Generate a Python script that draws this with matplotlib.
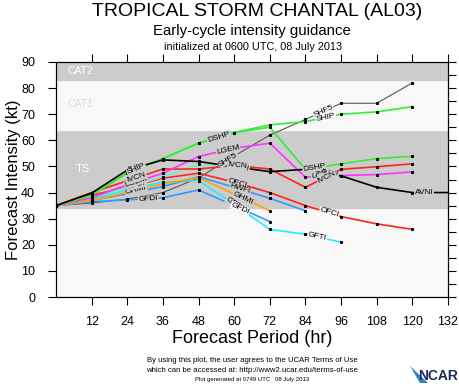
import math
import numpy as np
import matplotlib
matplotlib.use('Agg')
import matplotlib.pyplot as plt
from matplotlib.patches import Polygon

plt.rcParams['font.family'] = ['Liberation Sans', 'DejaVu Sans']

# forecast hours (AVNI runs one step longer, to the right edge)
hours = [0, 12, 24, 36, 48, 60, 72, 84, 96, 108, 120, 132]

# intensity guidance (kt)
shf5 = [35, 36, 37.5, 40, 45.6, 54, 62, 68, 74.2, 74.2, 82]
ship = [35, 39, 47.5, 53, 58.9, 63, 65.9, 67.2, 70, 70.9, 72.9]
dshp = [35, 39, 47.5, 53, 58.9, 63, 65, 48.9, 51, 53, 53.9]
lgem = [35, 38, 43, 47.4, 53.8, 57, 58.9, 45.9, 46.5, 46.9, 47.9]
avni = [35, 39.8, 48.6, 52.5, 51.9, 49.9, 48, 48.9, 46.4, 42, 40, 40]
icon = [35, 38, 42, 46, 50.8, 50]
ivcn = [35, 40, 44.5, 49, 49, 50.4, 49, 42, 48.9, 49.9, 51]
ofci = [35, 39, 42, 45.5, 47.4, 44, 40, 35, 30.8, 28, 25.9]
ghmi = [35, 37, 40, 43.3, 45.7, 39.5, 33]
hwfi = [35, 37, 39.5, 42.3, 46.1, 42, 37.8, 33]
gfti = [35, 37.5, 41, 44, 44.6, 35.5, 25.9, 24, 21]
gfdi = [35, 36.5, 37.2, 38, 41, 35, 28.9]

models = [
    ('SHF5', shf5, '#555555', 0.8),
    ('GFDI', gfdi, '#3399ff', 1.2),
    ('GFTI', gfti, '#22eeff', 1.2),
    ('HWFI', hwfi, '#3399ff', 1.2),
    ('GHMI', ghmi, '#ffa500', 1.2),
    ('OFCI', ofci, '#ff2222', 1.2),
    ('ICON', icon, '#77eebb', 1.2),
    ('IVCN', ivcn, '#ff2222', 1.2),
    ('LGEM', lgem, '#ff33ff', 1.2),
    ('DSHP', dshp, '#33ee33', 1.2),
    ('SHIP', ship, '#33ee33', 1.2),
    ('AVNI', avni, '#000000', 1.2),
]
series = {name: vals for name, vals, c, lw in models}

# where the line labels sit (model, hour)
label_spots = [
    ('GFDI', 31), ('GFTI', 27), ('HWFI', 27), ('GHMI', 27), ('OFCI', 27),
    ('LGEM', 27), ('IVCN', 27), ('AVNI', 27), ('SHIP', 27),
    ('SHIP', 54), ('DSHP', 55), ('SHF5', 58), ('LGEM', 58),
    ('AVNI', 62), ('IVCN', 61), ('OFCI', 61), ('HWFI', 62),
    ('GHMI', 63), ('GFTI', 60), ('GFDI', 62),
    ('SHF5', 90), ('SHIP', 91), ('DSHP', 87), ('LGEM', 90),
    ('AVNI', 92), ('IVCN', 91), ('OFCI', 92), ('GFTI', 88),
    ('AVNI', 124),
]

fig = plt.figure(figsize=(4.6, 3.84), dpi=100)
ax = fig.add_axes([56 / 460, 1 - 297 / 384, 392 / 460, 235 / 384])

# intensity bands
ax.axhspan(0, 34, color='#f8f8f8', zorder=0)
ax.axhspan(34, 64, color='#cccccc', zorder=0)
ax.axhspan(64, 83, color='#f8f8f8', zorder=0)
ax.axhspan(83, 90, color='#cccccc', zorder=0)
ax.text(4, 86.5, 'CAT2', color='white', fontsize=7.5, va='center')
ax.text(4, 74, 'CAT1', color='#dddddd', fontsize=7.5, va='center')
ax.text(6.5, 49, 'TS', color='white', fontsize=8, va='center')

for name, vals, col, lw in models:
    h = hours[:len(vals)]
    ax.plot(h, vals, color=col, lw=lw, zorder=2)
    pts = h if name != 'AVNI' else h[:-1]
    ax.plot(pts, vals[:len(pts)], ls='none', marker='s', ms=1.2,
            color='black', zorder=3)


def band_color(y):
    if 34 <= y < 64 or y >= 83:
        return '#cccccc'
    return '#f8f8f8'


for name, hr in label_spots:
    vals = series[name]
    h = hours[:len(vals)]
    y = float(np.interp(hr, h, vals))
    i = int(np.searchsorted(h, hr))
    i = max(1, min(i, len(h) - 1))
    ang = math.degrees(math.atan2(vals[i] - vals[i - 1], h[i] - h[i - 1]))
    ax.text(hr, y, name, fontsize=6, ha='center', va='center',
            rotation=ang, transform_rotates_text=True, rotation_mode='anchor',
            zorder=4,
            bbox=dict(boxstyle='square,pad=0.05', fc=band_color(y), ec='none'))

ax.set_xlim(0, 132)
ax.set_ylim(0, 90)
ax.set_xticks(range(12, 133, 12))
ax.set_yticks(range(0, 91, 10))
ax.tick_params(axis='both', direction='out', length=6, width=0.8,
               labelsize=9, colors='black')
ax.tick_params(axis='x', top=True, pad=8)
ax.tick_params(axis='y', pad=9)

rax = ax.twinx()
rax.set_ylim(0, 90)
rax.set_yticks(range(0, 91, 5))
rax.set_yticklabels([])
rax.tick_params(direction='out', length=6, width=0.8)

for a in (ax, rax):
    for s in a.spines.values():
        s.set_linewidth(0.8)

ax.set_xlabel('Forecast Period (hr)', fontsize=13, labelpad=1)
ax.set_ylabel('Forecast Intensity (kt)', fontsize=12, labelpad=0)

fig.text(257 / 460, 1 - 12 / 384, 'TROPICAL STORM CHANTAL (AL03)',
         ha='center', va='center', fontsize=14)
fig.text(252 / 460, 1 - 31 / 384, 'Early-cycle intensity guidance',
         ha='center', va='center', fontsize=10.8)
fig.text(253 / 460, 1 - 47 / 384, 'initialized at 0600 UTC, 08 July 2013',
         ha='center', va='center', fontsize=7.8)
fig.text(252 / 460, 1 - 360 / 384,
         'By using this plot, the user agrees to the UCAR Terms of Use',
         ha='center', va='center', fontsize=5.6)
fig.text(252 / 460, 1 - 370 / 384,
         'which can be accessed at: http://www2.ucar.edu/terms-of-use',
         ha='center', va='center', fontsize=5.6)
fig.text(252 / 460, 1 - 379.5 / 384,
         'Plot generated at 0749 UTC   08 July 2013',
         ha='center', va='center', fontsize=4.3)

# NCAR logo
logo = Polygon([[410 / 460, 1 - 366 / 384], [428 / 460, 1 - 383 / 384],
                [420 / 460, 1 - 383 / 384]], closed=True,
               transform=fig.transFigure, fc='#3a7fc0', ec='none')
fig.patches.append(logo)
fig.text(458 / 460, 1 - 376 / 384, 'NCAR', ha='right', va='center',
         fontsize=10, fontweight='bold', color='#1b2b55')

fig.savefig('out.png', dpi=100)
